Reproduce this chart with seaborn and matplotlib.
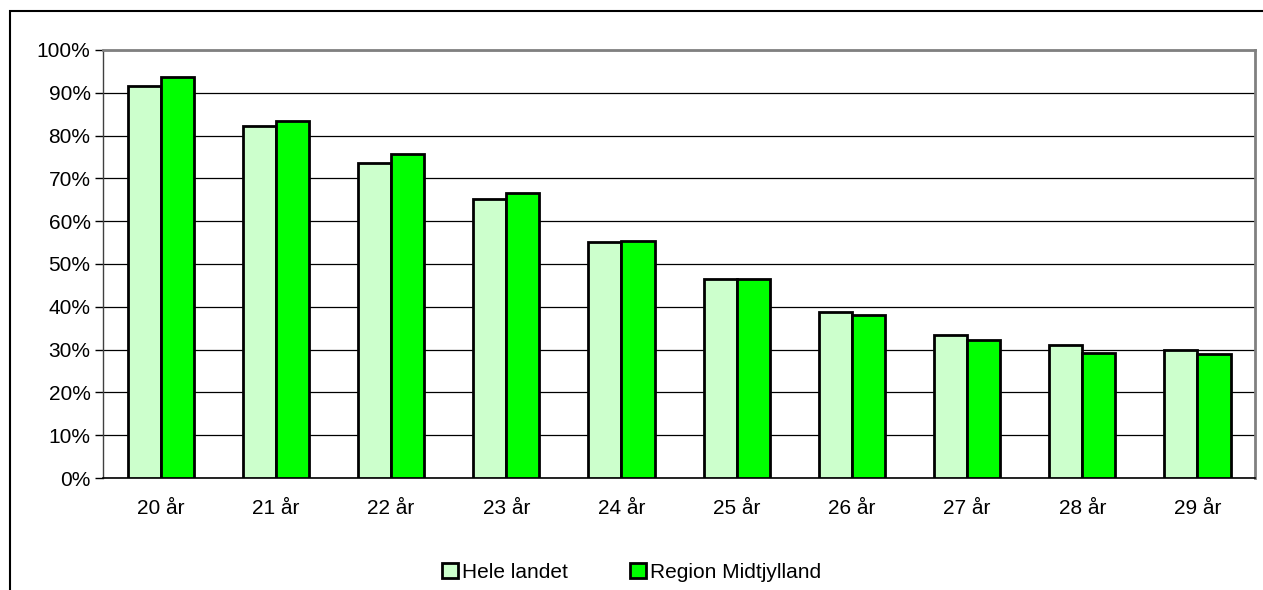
import matplotlib
matplotlib.use("Agg")
import matplotlib.pyplot as plt
import matplotlib.ticker as mticker
from matplotlib.patches import Rectangle
import seaborn as sns
import pandas as pd

ages = ["20 år", "21 år", "22 år", "23 år", "24 år", "25 år", "26 år", "27 år", "28 år", "29 år"]
hele_landet = [91.6, 82.2, 73.6, 65.2, 55.2, 46.6, 38.8, 33.5, 31.0, 29.8]
midtjylland = [93.6, 83.3, 75.7, 66.6, 55.4, 46.5, 38.0, 32.3, 29.3, 28.9]
series = ["Hele landet", "Region Midtjylland"]

df = pd.DataFrame({
    "age": ages * 2,
    "value": hele_landet + midtjylland,
    "series": [series[0]] * len(ages) + [series[1]] * len(ages),
})

sns.set_style("white")
plt.rcParams["font.family"] = ["Liberation Sans", "DejaVu Sans"]
plt.rcParams["text.color"] = "black"
plt.rcParams["xtick.labelcolor"] = "black"
plt.rcParams["ytick.labelcolor"] = "black"

fig = plt.figure(figsize=(12.63, 5.90), dpi=100)
ax = fig.add_axes([0.0816, 0.1898, 0.9121, 0.7255])

sns.barplot(data=df, x="age", y="value", hue="series",
            palette=["#CCFFCC", "#00FF00"], saturation=1, width=0.575,
            edgecolor="black", linewidth=2, ax=ax, legend=True, zorder=3)

ax.set_ylim(0, 100)
ax.set_xlim(-0.5, len(ages) - 0.5)
ax.yaxis.set_major_locator(mticker.MultipleLocator(10))
ax.yaxis.set_major_formatter(mticker.FuncFormatter(lambda v, p: f"{v:.0f}%"))
ax.grid(axis="y", color="black", linewidth=0.9, zorder=0)
ax.set_axisbelow(True)
ax.set_xlabel("")
ax.set_ylabel("")

# ticks between categories
ax.set_xticks([i - 0.5 for i in range(len(ages) + 1)], minor=True)
ax.tick_params(axis="x", which="minor", length=6, width=1, color="black", direction="out")
ax.tick_params(axis="x", which="major", length=0, labelsize=15, pad=15, labelcolor="black")
ax.tick_params(axis="y", length=6, width=1, color="black", direction="out", labelsize=15,
               left=True, pad=3, labelcolor="black")

for side in ["top", "right"]:
    ax.spines[side].set_color("#808080")
    ax.spines[side].set_linewidth(2)
ax.spines["left"].set_color("#404040")
ax.spines["bottom"].set_color("black")
ax.spines["left"].set_linewidth(1)
ax.spines["bottom"].set_linewidth(1.2)

handles, labels = ax.get_legend_handles_labels()
ax.get_legend().remove()
leg = fig.legend(handles, labels, loc="center", bbox_to_anchor=(0.5, 0.03), ncol=2,
                 frameon=False, fontsize=15, handlelength=0.75, handleheight=0.75,
                 handletextpad=0.2, columnspacing=3.0)
for t in leg.get_texts():
    t.set_color("black")

# outer chart frame
fig.patches.append(Rectangle((10 / 1263, -0.05), 1.2, 1 - 11 / 590 + 0.05,
                             transform=fig.transFigure, fill=False,
                             edgecolor="black", linewidth=1.5))

fig.savefig("out.png", dpi=100)
